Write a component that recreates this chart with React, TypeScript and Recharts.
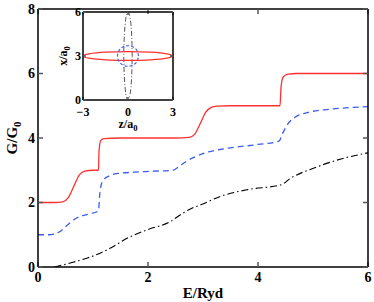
import { LineChart, Line, XAxis, YAxis, Label } from "recharts";

// main panel: conductance vs energy
const redE = [0, 0.3, 0.45, 0.55, 0.65, 0.75, 0.85, 1.0, 1.1, 1.11, 1.14, 1.2, 1.5, 2.5, 2.75, 2.85, 2.95, 3.05, 3.15, 3.25, 3.5, 4.0, 4.4, 4.42, 4.46, 4.55, 4.7, 5.0, 6.0];
const redG = [2, 2, 2.02, 2.15, 2.5, 2.85, 2.97, 3.0, 3.0, 3.6, 3.92, 3.98, 4.0, 4.0, 4.02, 4.12, 4.45, 4.8, 4.95, 4.99, 5.0, 5.0, 5.0, 5.6, 5.9, 5.98, 6.0, 6.0, 6.0];

const blueE = [0, 0.2, 0.3, 0.4, 0.52, 0.7, 0.9, 1.1, 1.12, 1.15, 1.2, 1.3, 1.45, 1.75, 2.1, 2.45, 2.55, 2.7, 2.9, 3.1, 3.4, 4.0, 4.38, 4.45, 4.55, 4.66, 4.9, 5.3, 6.0];
const blueG = [1, 1, 1.02, 1.1, 1.28, 1.52, 1.63, 1.74, 2.2, 2.55, 2.72, 2.83, 2.9, 2.94, 2.97, 3.0, 3.1, 3.28, 3.45, 3.57, 3.67, 3.8, 3.9, 4.15, 4.45, 4.63, 4.79, 4.89, 4.97];

const blackE = [0.3, 0.6, 0.9, 1.13, 1.31, 1.62, 1.98, 2.41, 2.59, 2.77, 2.96, 3.32, 3.81, 4.42, 4.6, 5.02, 5.51, 6.0];
const blackG = [0, 0.13, 0.28, 0.43, 0.58, 0.89, 1.15, 1.41, 1.62, 1.8, 1.93, 2.19, 2.4, 2.55, 2.76, 3.07, 3.35, 3.54];

const xTicks = [0, 2, 4, 6];
const yTicks = [0, 2, 4, 6, 8];

// inset: cross sections, points read around each outline
const redZ = [3, 2.6, 1.5, 0, -1.5, -2.6, -3, -2.6, -1.5, 0, 1.5, 2.6, 3];
const redX = [3, 3.15, 3.26, 3.3, 3.26, 3.15, 3, 2.85, 2.74, 2.7, 2.74, 2.85, 3];

const blueZ = [0.7, 0.61, 0.35, 0, -0.35, -0.61, -0.7, -0.61, -0.35, 0, 0.35, 0.61, 0.7];
const blueX = [3, 3.35, 3.61, 3.7, 3.61, 3.35, 3, 2.65, 2.39, 2.3, 2.39, 2.65, 3];

const blackZ = [0.28, 0.24, 0.14, 0, -0.14, -0.24, -0.28, -0.24, -0.14, 0, 0.14, 0.24, 0.28];
const blackX = [3, 4.5, 5.6, 6, 5.6, 4.5, 3, 1.5, 0.4, 0, 0.4, 1.5, 3];

const insetXTicks = [-3, 0, 3];
const insetYTicks = [0, 3, 6];

const toPts = (xs: number[], ys: number[]) => xs.map((x, i) => ({ x, y: ys[i] }));
const minus = (v: number) => (v < 0 ? `\u2212${-v}` : `${v}`);

const FONT = "'Liberation Serif', 'Times New Roman', serif";
const tickStyle = { fontFamily: FONT, fontWeight: 700, fontSize: 14, fill: "#000" };
const smallTick = { fontFamily: FONT, fontWeight: 700, fontSize: 12, fill: "#000" };
const tickLn = { stroke: "#555", strokeWidth: 1.5 };
const noTick = () => <g />;

function SubLabel({ viewBox, text, sub, rotate, dx, dy, size }: any) {
  const { x, y, width, height } = viewBox;
  let cx, cy;
  if (rotate) {
    cx = x + dx;
    cy = y + height / 2;
  } else {
    cx = x + width / 2;
    cy = y + dy;
  }
  return (
    <text
      x={cx}
      y={cy}
      textAnchor="middle"
      dominantBaseline="central"
      transform={rotate ? `rotate(-90 ${cx} ${cy})` : undefined}
      style={{ fontFamily: FONT, fontWeight: 700, fontSize: size, fill: "#000" }}
    >
      {text}
      <tspan dy={size * 0.3} fontSize={size * 0.72}>{sub}</tspan>
    </text>
  );
}

export default function App() {
  return (
    <div style={{ position: "absolute", left: 0, top: 0, width: 374, height: 302, background: "#fff" }}>
      <LineChart width={374} height={302} margin={{ top: 9, right: 6, left: 0, bottom: 0 }}>
        <XAxis
          xAxisId="b"
          type="number"
          dataKey="x"
          domain={[0, 6]}
          ticks={xTicks}
          allowDataOverflow
          height={35}
          stroke="#000"
          strokeWidth={1.5}
          tickSize={-5}
          tickMargin={10}
          tickLine={tickLn}
          tick={tickStyle}
        >
          <Label content={(p: any) => <SubLabel {...p} text="E/Ryd" sub="" dy={26} size={15} />} />
        </XAxis>
        <XAxis
          xAxisId="t"
          orientation="top"
          type="number"
          dataKey="x"
          domain={[0, 6]}
          ticks={xTicks}
          allowDataOverflow
          height={1}
          mirror
          stroke="#000"
          strokeWidth={1.5}
          tickSize={5}
          tickLine={tickLn}
          tick={noTick}
        />
        <YAxis
          yAxisId="l"
          type="number"
          domain={[0, 8]}
          ticks={yTicks}
          allowDataOverflow
          width={38}
          stroke="#000"
          strokeWidth={1.5}
          tickSize={-5}
          tickMargin={8}
          tickLine={tickLn}
          tick={tickStyle}
        >
          <Label content={(p: any) => <SubLabel {...p} text="G/G" sub="0" rotate dx={12} size={15} />} />
        </YAxis>
        <YAxis
          yAxisId="r"
          orientation="right"
          type="number"
          domain={[0, 8]}
          ticks={yTicks}
          allowDataOverflow
          width={1}
          mirror
          stroke="#000"
          strokeWidth={1.5}
          tickSize={5}
          tickLine={tickLn}
          tick={noTick}
        />
        <Line xAxisId="b" yAxisId="l" data={toPts(redE, redG)} dataKey="y" type="monotone" stroke="#ff3030" strokeWidth={1.3} dot={false} isAnimationActive={false} />
        <Line xAxisId="b" yAxisId="l" data={toPts(blueE, blueG)} dataKey="y" type="monotone" stroke="#3c5cf0" strokeWidth={1.3} strokeDasharray="6 4" dot={false} isAnimationActive={false} />
        <Line xAxisId="b" yAxisId="l" data={toPts(blackE, blackG)} dataKey="y" type="monotone" stroke="#000" strokeWidth={1.1} strokeDasharray="7 3 1.5 3" dot={false} isAnimationActive={false} />
      </LineChart>

      <div style={{ position: "absolute", left: 50, top: 0 }}>
        <LineChart width={130} height={136} margin={{ top: 12, right: 7, left: 0, bottom: 0 }}>
          <XAxis
            xAxisId="b"
            type="number"
            dataKey="x"
            domain={[-3, 3]}
            ticks={insetXTicks}
            tickFormatter={minus}
            allowDataOverflow
            height={36}
            stroke="#000"
            strokeWidth={1.5}
            tickSize={-3}
            tickMargin={10}
            tickLine={tickLn}
            tick={smallTick}
          >
            <Label content={(p: any) => <SubLabel {...p} text="z/a" sub="0" dy={24} size={12} />} />
          </XAxis>
          <XAxis xAxisId="t" orientation="top" type="number" dataKey="x" domain={[-3, 3]} ticks={insetXTicks} allowDataOverflow height={1} mirror stroke="#000" strokeWidth={1.5} tickSize={3} tickLine={tickLn} tick={noTick} />
          <YAxis
            yAxisId="l"
            type="number"
            domain={[0, 6]}
            ticks={insetYTicks}
            allowDataOverflow
            width={33}
            stroke="#000"
            strokeWidth={1.5}
            tickSize={-3}
            tickMargin={5}
            tickLine={tickLn}
            tick={smallTick}
          >
            <Label content={(p: any) => <SubLabel {...p} text="x/a" sub="0" rotate dx={13} size={12} />} />
          </YAxis>
          <YAxis yAxisId="r" orientation="right" type="number" domain={[0, 6]} ticks={insetYTicks} allowDataOverflow width={1} mirror stroke="#000" strokeWidth={1.5} tickSize={3} tickLine={tickLn} tick={noTick} />
          <Line xAxisId="b" yAxisId="l" data={toPts(blackZ, blackX)} dataKey="y" type="natural" stroke="#555" strokeWidth={1} strokeDasharray="5 2 1 2" dot={false} isAnimationActive={false} />
          <Line xAxisId="b" yAxisId="l" data={toPts(redZ, redX)} dataKey="y" type="natural" stroke="#ff3030" strokeWidth={1.2} dot={false} isAnimationActive={false} />
          <Line xAxisId="b" yAxisId="l" data={toPts(blueZ, blueX)} dataKey="y" type="natural" stroke="#3c5cf0" strokeWidth={1.1} strokeDasharray="3 2" dot={false} isAnimationActive={false} />
        </LineChart>
      </div>
    </div>
  );
}
